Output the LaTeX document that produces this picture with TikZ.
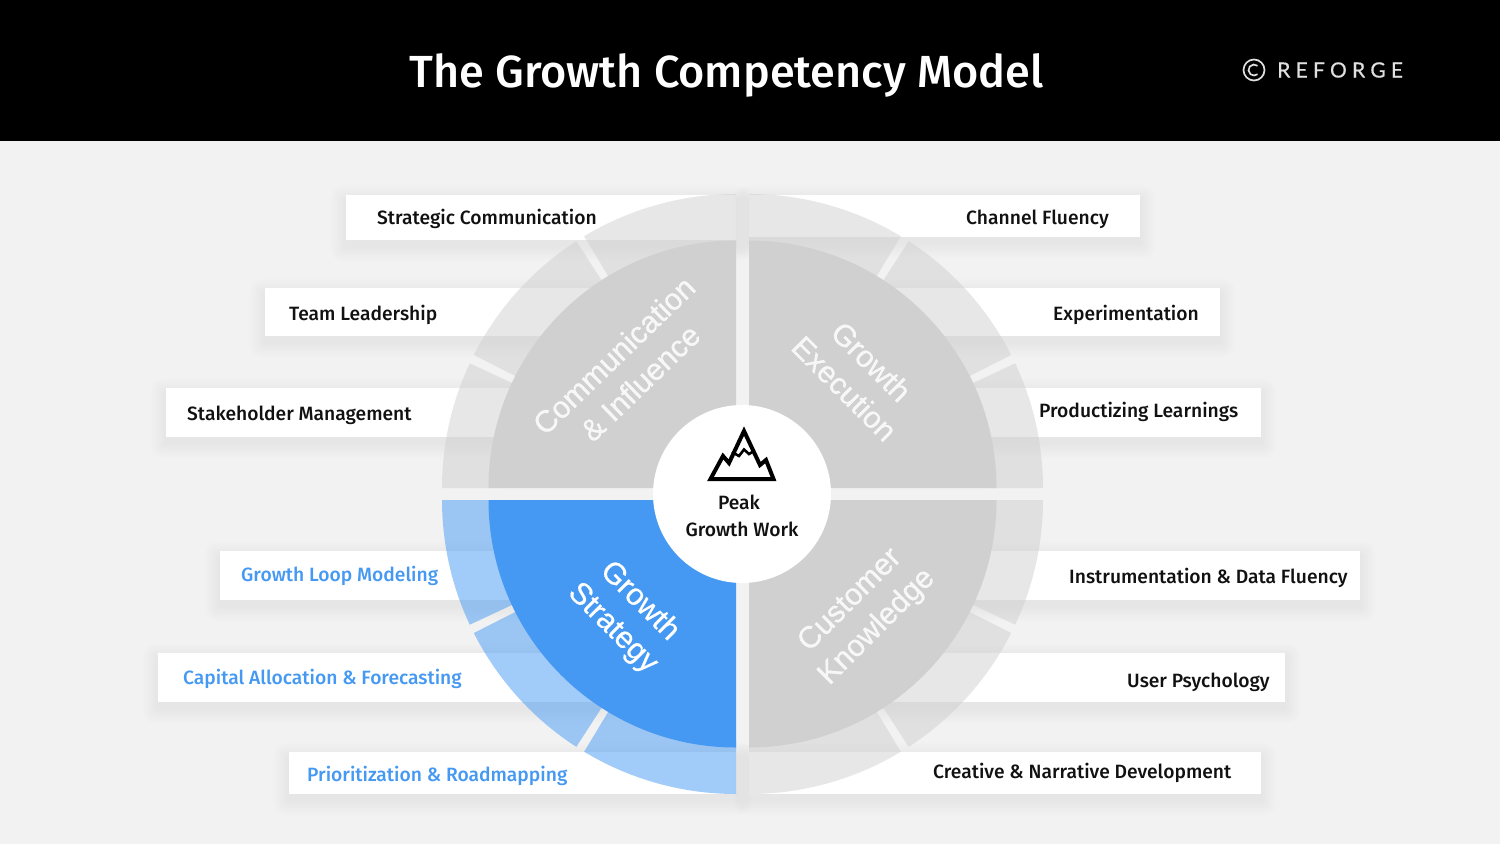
\documentclass[tikz,border=0pt]{standalone}
\usepackage{fontspec}
\setmainfont{Fira Sans Medium}
\newfontfamily\quadfont[FakeBold=0.6]{Liberation Sans}
\newfontfamily\brandfont[LetterSpace=25,FakeBold=0.6]{Lato}
\usetikzlibrary{calc}
\definecolor{pagebg}{HTML}{F2F2F2}
\definecolor{quadgray}{HTML}{D0D0D0}
\definecolor{quadblue}{HTML}{4599F2}
\definecolor{inkdark}{HTML}{111111}
\tikzset{
  labelbox/.style={fill=white,draw=none,inner sep=0pt,outer sep=0pt,anchor=north west},
  labeltext/.style={font=\fontsize{19.25}{23}\selectfont,text=inkdark,inner sep=0pt,anchor=west},
  bluetext/.style={labeltext,text=quadblue},
  quadtext/.style={font=\quadfont\fontsize{30.4}{38}\selectfont,text=white,text opacity=.85,align=center,inner sep=0pt},
  grayband/.style={fill=quadgray,fill opacity=.5},
  blueband/.style={fill=quadblue,fill opacity=.5},
  graydisc/.style={fill=quadgray},
  bluedisc/.style={fill=quadblue},
}
% labelled box with a soft shadow: name, x, y, w, h
\newcommand{\softbox}[5]{%
  \foreach \s in {1,...,12}{%
    \fill[black,opacity=.003,rounded corners=\s pt]
      ({#2-1.3*\s},{#3+6-1.3*\s}) rectangle ({#2+#4+1.3*\s},{#3+#5+6+1.3*\s});
  }%
  \node[labelbox,minimum width=#4pt,minimum height=#5pt] (#1) at (#2,#3) {};
}
% band sector: cx, cy, a1, a2, style
\newcommand{\bandsec}[5]{%
  \path (#1,#2) ++(#4:240pt) coordinate (tmpin);
  \path[#5] (#1,#2) ++(#3:294pt) arc[start angle=#3,end angle=#4,radius=294pt]
    -- (tmpin) arc[start angle=#4,end angle=#3,radius=240pt] -- cycle;
}
% disc quadrant: cx, cy, a1, a2, style
\newcommand{\discsec}[5]{%
  \path[#5] (#1,#2) -- ++(#3:247.5pt) arc[start angle=#3,end angle=#4,radius=247.5pt] -- cycle;
}
\begin{document}
\begin{tikzpicture}[x=1pt,y=-1pt]
\useasboundingbox (0,0) rectangle (1500,844);
\fill[pagebg] (0,0) rectangle (1500,844);
\fill[black] (0,0) rectangle (1500,140.5);
\node[font=\fontsize{45}{50}\selectfont,text=white,inner sep=0pt] (title) at (726.5,75) {The Growth Competency Model};
\node[draw=white!88!black,line width=1.7pt,circle,minimum size=21pt,inner sep=0pt] (logo) at (1254,70) {};
\draw[white!88!black,line width=1.7pt] (1254,70) ++(50:5.5pt) arc[start angle=50,end angle=310,radius=5.5pt];
\node[font=\brandfont\fontsize{21}{24}\selectfont,text=white!88!black,inner sep=0pt,anchor=west] (brand) at (1277,70) {REFORGE};

\softbox{bA}{346}{195}{390}{45}
\softbox{bB}{265}{288}{340}{48}
\softbox{bC}{166}{388}{354}{49}
\softbox{bD}{749}{195}{391}{42}
\softbox{bE}{880}{288}{340}{48}
\softbox{bF}{960}{388}{301}{49}
\softbox{bG}{220}{551}{300}{49}
\softbox{bH}{158}{653}{442}{49}
\softbox{bI}{289}{752}{447}{42}
\softbox{bJ}{960}{551}{400}{49}
\softbox{bK}{885}{653}{400}{49}
\softbox{bL}{749}{752}{512}{42}

% outer bands
\bandsec{736}{488}{90}{121.1}{grayband}
\bandsec{736}{488}{122.9}{153.1}{grayband}
\bandsec{736}{488}{154.9}{180}{grayband}
\bandsec{749}{488}{0}{25.1}{grayband}
\bandsec{749}{488}{26.9}{57.1}{grayband}
\bandsec{749}{488}{58.9}{90}{grayband}
\bandsec{736}{500}{180}{205.1}{blueband}
\bandsec{736}{500}{206.9}{237.1}{blueband}
\bandsec{736}{500}{238.9}{270}{blueband}
\bandsec{749}{500}{270}{301.1}{grayband}
\bandsec{749}{500}{302.9}{333.1}{grayband}
\bandsec{749}{500}{334.9}{360}{grayband}

% inner quadrants
\discsec{736}{488}{90}{180}{graydisc}
\discsec{749}{488}{0}{90}{graydisc}
\discsec{736}{500}{180}{270}{bluedisc}
\discsec{749}{500}{270}{360}{graydisc}

\node[quadtext,rotate=44] (qA) at (627,369) {Communication\\\& Influence};
\node[quadtext,rotate=-45] (qB) at (858,375) {Growth\\Execution};
\node[quadtext,rotate=-45,text opacity=1] (qC) at (626,615) {Growth\\Strategy};
\node[quadtext,rotate=45] (qD) at (864,614) {Customer\\Knowledge};

\node[circle,fill=white,minimum size=178pt,inner sep=0pt] (hub) at (742,494) {};
\draw[black,line width=4pt,miter limit=6] (710.5,479) -- (723,456) -- (729,463) -- (744,431) -- (760,465) -- (766,460) -- (773.5,479) -- cycle;
\draw[black,line width=2.6pt] (732,452) -- (739,456) -- (744,449.5) -- (749,454) -- (754,451);
\node[labeltext,anchor=center] (peakA) at (739,502) {Peak};
\node[labeltext,anchor=center] (peakB) at (742,529) {Growth Work};

\node[labeltext] (tA) at (377,219) {Strategic Communication};
\node[labeltext] (tB) at (289,315) {Team Leadership};
\node[labeltext] (tC) at (187,415) {Stakeholder Management};
\node[labeltext] (tD) at (966,219) {Channel Fluency};
\node[labeltext] (tE) at (1053,315) {Experimentation};
\node[labeltext] (tF) at (1039,412) {Productizing Learnings};
\node[bluetext] (tG) at (241,576) {Growth Loop Modeling};
\node[bluetext] (tH) at (183,679) {Capital Allocation \& Forecasting};
\node[bluetext] (tI) at (307,776) {Prioritization \& Roadmapping};
\node[labeltext] (tJ) at (1069,578) {Instrumentation \& Data Fluency};
\node[labeltext] (tK) at (1127,682) {User Psychology};
\node[labeltext] (tL) at (933,773) {Creative \& Narrative Development};
\end{tikzpicture}
\end{document}
